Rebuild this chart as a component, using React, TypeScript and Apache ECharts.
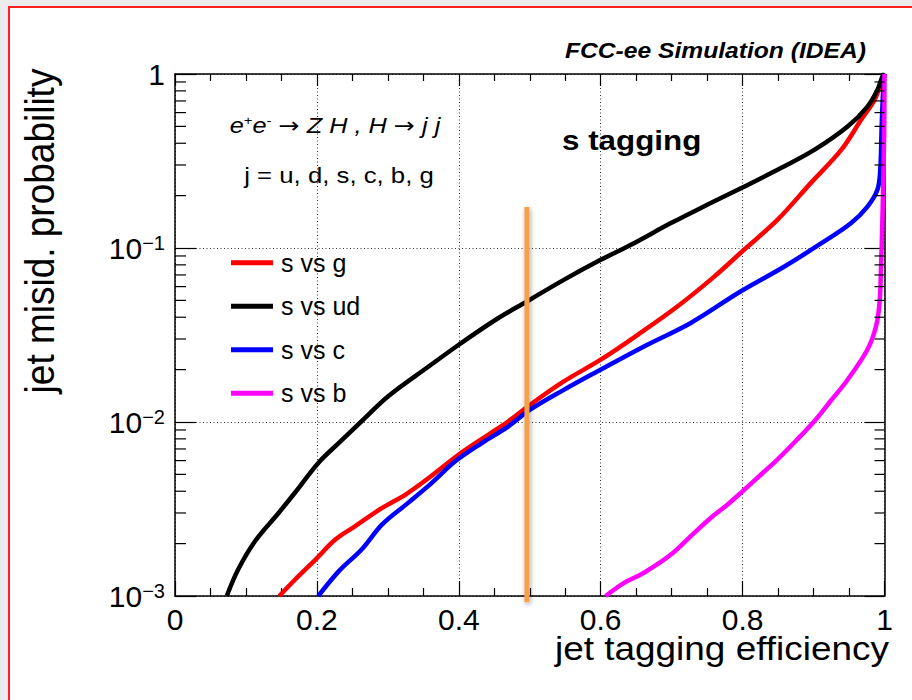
import React, { useEffect, useRef } from 'react';
import * as echarts from 'echarts';

const FONT = '"Liberation Sans", Arial, Helvetica, sans-serif';

// Axis ranges and tick definitions
const xTicks = [0, 0.2, 0.4, 0.6, 0.8, 1];
const yMin = 0.001;
const yMax = 1;
const yDecades = [0.001, 0.01, 0.1, 1];
const yDecadeLabels = ['−3', '−2', '−1', ''];
const yMinorMultipliers = [2, 3, 4, 5, 6, 7, 8, 9];

const seriesNames = ['s vs g', 's vs ud', 's vs c', 's vs b'];
const seriesColors = ['#ff0000', '#000000', '#0000ff', '#ff00ff'];

// ROC curves: [tagging efficiency, mis-identification probability]
const sVsG: [number, number][] = [
  [0.147, 0.001], [0.169, 0.00124], [0.198, 0.00162], [0.226, 0.00211],
  [0.254, 0.00252], [0.292, 0.00321], [0.325, 0.00383], [0.358, 0.00478],
  [0.4, 0.0065], [0.442, 0.00847], [0.47, 0.0101], [0.501, 0.0126],
  [0.548, 0.0171], [0.6, 0.0228], [0.656, 0.0325], [0.708, 0.0461],
  [0.76, 0.0685], [0.802, 0.0977], [0.849, 0.145], [0.896, 0.236],
  [0.939, 0.366], [0.967, 0.545], [0.986, 0.71], [0.995, 0.885], [1.0, 1.0],
];

const sVsUd: [number, number][] = [
  [0.073, 0.001], [0.089, 0.00142], [0.113, 0.00207], [0.146, 0.003],
  [0.169, 0.00392], [0.202, 0.00582], [0.231, 0.00759], [0.263, 0.0101],
  [0.301, 0.0141], [0.358, 0.0209], [0.4, 0.0278], [0.452, 0.0387],
  [0.496, 0.0493], [0.548, 0.0656], [0.6, 0.0855], [0.642, 0.104],
  [0.699, 0.139], [0.75, 0.177], [0.802, 0.225], [0.854, 0.288],
  [0.901, 0.366], [0.948, 0.499], [0.976, 0.65], [0.99, 0.809],
  [0.997, 0.966], [1.0, 1.0],
];

const sVsC: [number, number][] = [
  [0.202, 0.001], [0.231, 0.00139], [0.263, 0.00185], [0.292, 0.00258],
  [0.329, 0.00344], [0.362, 0.00447], [0.395, 0.00594], [0.433, 0.00759],
  [0.47, 0.00944], [0.501, 0.0118], [0.548, 0.0153], [0.595, 0.0195],
  [0.661, 0.0272], [0.727, 0.0371], [0.797, 0.0562], [0.859, 0.0783],
  [0.915, 0.109], [0.953, 0.139], [0.976, 0.173], [0.99, 0.216],
  [0.994, 0.281], [0.996, 0.5], [0.998, 0.79], [1.0, 1.0],
];

const sVsB: [number, number][] = [
  [0.607, 0.001], [0.633, 0.00119], [0.661, 0.00136], [0.699, 0.00173],
  [0.727, 0.00221], [0.755, 0.00281], [0.779, 0.00336], [0.8, 0.004],
  [0.826, 0.00499], [0.849, 0.00608], [0.877, 0.00793], [0.901, 0.0101],
  [0.924, 0.0132], [0.948, 0.0175], [0.976, 0.0261], [0.988, 0.0354],
  [0.993, 0.0483], [0.995, 0.075], [0.997, 0.145], [0.9995, 0.437], [1.0, 1.0],
];

// Working-point marker: efficiency and the vertical extent it spans
const workingPointEff = 0.496;
const workingPointMis: [number, number] = [0.00092, 0.172];

const curves = [sVsG, sVsUd, sVsC, sVsB];

export default function App() {
  const ref = useRef<HTMLDivElement>(null);

  useEffect(() => {
    if (!ref.current) return;
    const chart = echarts.init(ref.current, undefined, { renderer: 'svg' });

    const yMinorTicks: number[] = [];
    yDecades.slice(0, -1).forEach((d) => yMinorMultipliers.forEach((m) => yMinorTicks.push(d * m)));

    const grid = { left: 175, top: 74, right: 27.5, bottom: 104, outerBoundsMode: 'none' };
    const dotted = { type: [1, 2.5], color: '#333', width: 1 };
    const axisLine = { show: true, onZero: false, lineStyle: { color: '#000', width: 1.5 } };

    const yLabel = (v: number) => {
      const idx = yDecades.findIndex((d) => Math.abs(Math.log10(d) - Math.log10(v)) < 1e-6);
      if (idx < 0) return '';
      if (yDecadeLabels[idx] === '') return '{one|1}';
      return `{n|10}{s|${yDecadeLabels[idx]}}`;
    };

    const option: any = {
      animation: false,
      backgroundColor: 'transparent',
      grid,
      legend: {
        data: seriesNames,
        orient: 'vertical',
        left: 231,
        top: 250.2,
        icon: 'rect',
        itemWidth: 42,
        itemHeight: 5,
        itemGap: 18.5,
        padding: 0,
        selectedMode: false,
        textStyle: { fontSize: 25, fontFamily: FONT, color: '#000', lineHeight: 25, padding: [0, 0, 0, 3] },
      },
      xAxis: [
        {
          type: 'value', position: 'bottom', min: xTicks[0], max: xTicks[xTicks.length - 1], interval: 0.2,
          axisLine,
          axisTick: { show: true, inside: true, length: 15, lineStyle: { color: '#000', width: 1.2 } },
          minorTick: { show: true, splitNumber: 4, length: 8, lineStyle: { color: '#000', width: 1.2 } },
          splitLine: { show: true, lineStyle: dotted },
          axisLabel: {
            show: true, margin: 8, fontSize: 30, fontFamily: FONT, color: '#000',
            formatter: (v: number) => (xTicks.includes(v) ? String(v) : ''),
          },
        },
        {
          type: 'value', position: 'top', min: xTicks[0], max: xTicks[xTicks.length - 1], interval: 0.2,
          axisLine,
          axisTick: { show: true, inside: true, length: 12, lineStyle: { color: '#000', width: 1.2 } },
          minorTick: { show: true, splitNumber: 4, length: 7, lineStyle: { color: '#000', width: 1.2 } },
          splitLine: { show: false },
          axisLabel: { show: false },
        },
      ],
      yAxis: [
        {
          type: 'log', logBase: 10, position: 'left', min: yMin, max: yMax,
          axisLine,
          axisTick: { show: true, inside: true, length: 21, lineStyle: { color: '#000', width: 1.2 } },
          splitLine: { show: true, lineStyle: dotted },
          axisLabel: {
            show: true, margin: 10, color: '#000', fontFamily: FONT,
            formatter: yLabel,
            rich: {
              one: { fontSize: 30, fontFamily: FONT, color: '#000', lineHeight: 30 },
              n: { fontSize: 30, fontFamily: FONT, color: '#000', lineHeight: 30, padding: [12, 0, 0, 0], verticalAlign: 'bottom' },
              s: { fontSize: 20, fontFamily: FONT, color: '#000', lineHeight: 30, verticalAlign: 'top' },
            },
          },
        },
        {
          type: 'log', logBase: 10, position: 'right', min: yMin, max: yMax,
          axisLine,
          axisTick: { show: true, inside: true, length: 20, lineStyle: { color: '#000', width: 1.2 } },
          splitLine: { show: false },
          axisLabel: { show: false },
        },
      ],
      graphic: [
        {
          type: 'text', x: 866, y: 50, scaleX: 1.12, z: 10,
          style: { text: 'FCC-ee Simulation (IDEA)', fontSize: 22, fontWeight: 'bold', fontStyle: 'italic', fontFamily: FONT, fill: '#000', align: 'right', verticalAlign: 'middle' },
        },
        {
          type: 'text', x: 562, y: 140, scaleX: 1.12, z: 10,
          style: { text: 's tagging', fontSize: 28, fontWeight: 'bold', fontFamily: FONT, fill: '#000', align: 'left', verticalAlign: 'middle' },
        },
        {
          type: 'text', x: 335, y: 126, scaleX: 1.15, z: 10,
          style: {
            text: '{i|e}{p|+}{i|e}{p|-}{i| }{a|→}{i| Z H , H }{a|→}{i| j j}',
            align: 'center', verticalAlign: 'middle',
            rich: {
              i: { fontSize: 22, fontStyle: 'italic', fontFamily: FONT, fill: '#000', lineHeight: 25 },
              a: { fontSize: 22, fontFamily: '"DejaVu Sans", sans-serif', fill: '#000', lineHeight: 25 },
              p: { fontSize: 13, fontFamily: FONT, fill: '#000', verticalAlign: 'top' },
            },
          },
        },
        {
          type: 'text', x: 339, y: 175, scaleX: 1.12, z: 10,
          style: { text: 'j = u, d, s, c, b, g', fontSize: 23, fontFamily: FONT, fill: '#000', align: 'center', verticalAlign: 'middle' },
        },
        {
          type: 'text', x: 889, y: 648, scaleX: 1.12, z: 10,
          style: { text: 'jet tagging efficiency', fontSize: 33, fontFamily: FONT, fill: '#000', align: 'right', verticalAlign: 'middle' },
        },
        {
          type: 'text', x: 40, y: 231, rotation: Math.PI / 2, scaleY: 1.1, z: 10,
          style: { text: 'jet misid. probability', fontSize: 37, fontFamily: FONT, fill: '#000', align: 'center', verticalAlign: 'middle' },
        },
      ],
      series: [
        ...curves.map((data, i) => ({
          name: seriesNames[i],
          type: 'line',
          data,
          showSymbol: false,
          symbol: 'none',
          smooth: 0.35,
          xAxisIndex: 0,
          yAxisIndex: 0,
          z: 3 + i,
          color: seriesColors[i],
          lineStyle: { color: seriesColors[i], width: 4.5 },
        })),
        {
          // working-point band, drawn as a narrow rect so its shadow has a real extent
          type: 'custom',
          silent: true,
          clip: false,
          z: 10,
          data: [[workingPointEff, workingPointMis[0], workingPointMis[1]]],
          renderItem: (_params: any, api: any) => {
            const x = api.value(0);
            const bottom = api.coord([x, api.value(1)]);
            const top = api.coord([x, api.value(2)]);
            const w = 5;
            return {
              type: 'rect',
              shape: { x: top[0] - w / 2, y: top[1], width: w, height: bottom[1] - top[1] },
              style: {
                fill: '#f5a04c',
                shadowBlur: 5, shadowColor: 'rgba(0,0,0,0.35)', shadowOffsetX: 1, shadowOffsetY: 2,
              },
            };
          },
        },
        {
          type: 'custom',
          silent: true,
          clip: false,
          z: 9,
          data: yMinorTicks.map((v) => [0, v]),
          renderItem: (_params: any, api: any) => {
            const v = api.value(1);
            const l = api.coord([0, v]);
            const r = api.coord([1, v]);
            return {
              type: 'group',
              children: [
                { type: 'line', shape: { x1: l[0], y1: l[1], x2: l[0] + 11, y2: l[1] }, style: { stroke: '#000', lineWidth: 1.2 } },
                { type: 'line', shape: { x1: r[0] - 10, y1: r[1], x2: r[0], y2: r[1] }, style: { stroke: '#000', lineWidth: 1.2 } },
              ],
            };
          },
        },
      ],
    };

    chart.setOption(option);
    return () => chart.dispose();
  }, []);

  return (
    <div style={{ position: 'fixed', left: 0, top: 0, width: 912, height: 700, background: '#ececec', overflow: 'hidden' }}>
      <div style={{ position: 'absolute', left: 8, top: 6, width: 930, height: 720, background: '#ffffff', borderLeft: '2px solid #ff2020', borderTop: '2px solid #ff2020', boxSizing: 'border-box' }} />
      <div ref={ref} style={{ position: 'absolute', left: 0, top: 0, width: 912, height: 700 }} />
    </div>
  );
}
